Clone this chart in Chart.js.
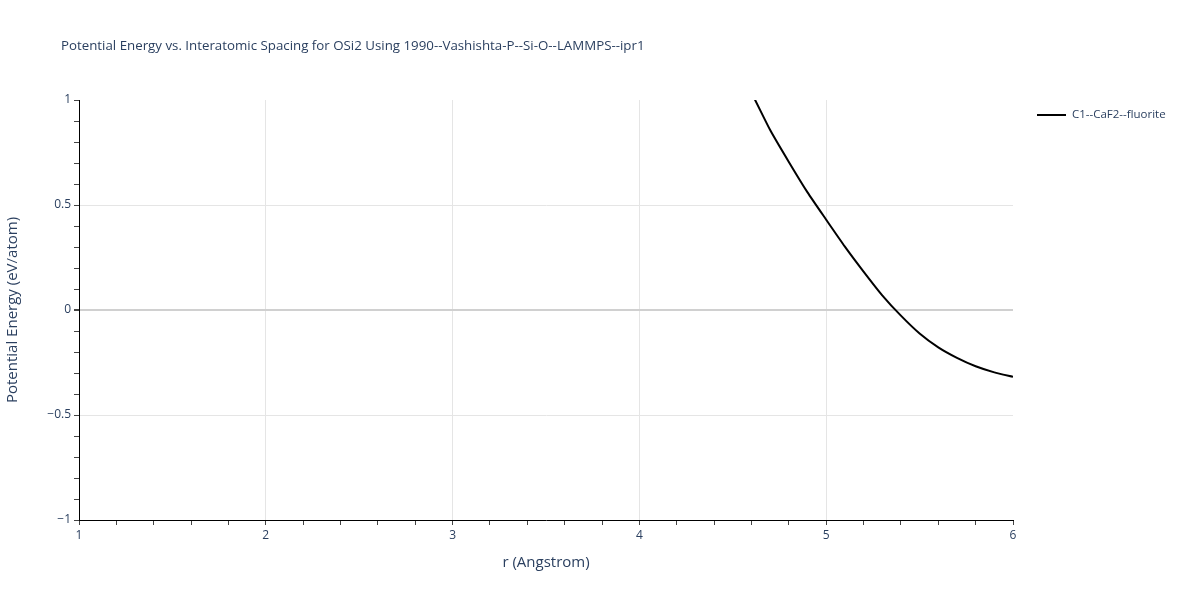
<!DOCTYPE html>
<html>
<head>
<meta charset="utf-8">
<script src="https://cdn.jsdelivr.net/npm/chart.js@4"></script>
<style>
  html, body { margin: 0; padding: 0; background: #fff; }
  #cont { width: 1200px; height: 600px; }
</style>
</head>
<body>
<div id="cont"><canvas id="grafico" width="1200" height="600"></canvas></div>
<script>
// datos
const distancias = [4.5, 4.6, 4.7, 4.8, 4.9, 5.0, 5.1, 5.2, 5.3, 5.4, 5.5, 5.6, 5.7, 5.8, 5.9, 6.0];
const energias = [1.19, 1.034, 0.857, 0.705, 0.56, 0.43, 0.302, 0.183, 0.07, -0.027, -0.112, -0.178, -0.228, -0.268, -0.297, -0.318];
const nombreSerie = "C1--CaF2--fluorite";
const titulo = "Potential Energy vs. Interatomic Spacing for OSi2 Using 1990--Vashishta-P--Si-O--LAMMPS--ipr1";

const colorTexto = "#2a3f5f";
const fuente = "'Open Sans', 'Liberation Sans', sans-serif";

function esEntero(v) { return Math.abs(v - Math.round(v)) < 1e-6; }
function esMedio(v) { return Math.abs(v * 2 - Math.round(v * 2)) < 1e-6; }
function conMenos(v) {
    const s = String(Math.round(v * 10) / 10);
    return s.replace("-", "\u2212");
}

// titulo y leyenda dibujados a mano para ubicarlos como en la imagen
const extras = {
    id: "extras",
    afterDraw(chart) {
        const ctx = chart.ctx;
        ctx.save();
        ctx.fillStyle = colorTexto;
        ctx.textBaseline = "middle";
        ctx.textAlign = "left";
        ctx.font = "13.3px " + fuente;
        ctx.fillText(titulo, 61, 46);

        ctx.strokeStyle = "#000";
        ctx.lineWidth = 2;
        ctx.beginPath();
        ctx.moveTo(1037, 115);
        ctx.lineTo(1066, 115);
        ctx.stroke();
        ctx.font = "11.5px " + fuente;
        ctx.fillText(nombreSerie, 1072, 115);
        ctx.restore();
    }
};

new Chart(document.getElementById("grafico"), {
    type: "line",
    data: {
        datasets: [{
            label: nombreSerie,
            data: distancias.map((r, i) => ({ x: r, y: energias[i] })),
            borderColor: "#000",
            borderWidth: 2,
            pointRadius: 0,
            tension: 0.2,
            fill: false
        }]
    },
    options: {
        responsive: false,
        animation: false,
        layout: { padding: { top: 100, right: 187, left: 0, bottom: 0 } },
        plugins: {
            legend: { display: false },
            title: { display: false },
            tooltip: { enabled: false }
        },
        scales: {
            x: {
                type: "linear",
                min: 1,
                max: 6,
                afterFit: s => { s.height = 80; },
                border: { display: true, color: "#000", width: 1 },
                grid: {
                    drawTicks: true,
                    tickLength: 5,
                    tickColor: "#444",
                    color: c => (esEntero(c.tick.value) && c.tick.value > 1 && c.tick.value < 6) ? "#e5e5e5" : "rgba(0,0,0,0)",
                    lineWidth: 1
                },
                ticks: {
                    stepSize: 0.2,
                    autoSkip: false,
                    maxRotation: 0,
                    padding: 3,
                    color: colorTexto,
                    font: { family: fuente, size: 12 },
                    callback: v => esEntero(v) ? String(Math.round(v)) : ""
                },
                title: {
                    display: true,
                    text: "r (Angstrom)",
                    color: colorTexto,
                    font: { family: fuente, size: 15 },
                    padding: { top: 0, bottom: 28 }
                }
            },
            y: {
                type: "linear",
                min: -1,
                max: 1,
                afterFit: s => { s.width = 79; },
                border: { display: true, color: "#000", width: 1 },
                grid: {
                    drawTicks: true,
                    tickLength: 5,
                    tickColor: "#444",
                    color: c => {
                        const v = c.tick.value;
                        if (Math.abs(v) < 1e-6) return "#d0d0d0";
                        if (esMedio(v) && Math.abs(Math.abs(v) - 1) > 1e-6) return "#e5e5e5";
                        return "rgba(0,0,0,0)";
                    },
                    lineWidth: c => Math.abs(c.tick.value) < 1e-6 ? 2 : 1
                },
                ticks: {
                    stepSize: 0.1,
                    autoSkip: false,
                    padding: 3,
                    color: colorTexto,
                    font: { family: fuente, size: 12 },
                    callback: v => esMedio(v) ? conMenos(v) : ""
                },
                title: {
                    display: true,
                    text: "Potential Energy (eV/atom)",
                    color: colorTexto,
                    font: { family: fuente, size: 15 },
                    padding: { top: 4, bottom: 0 }
                }
            }
        }
    },
    plugins: [extras]
});
</script>
</body>
</html>
